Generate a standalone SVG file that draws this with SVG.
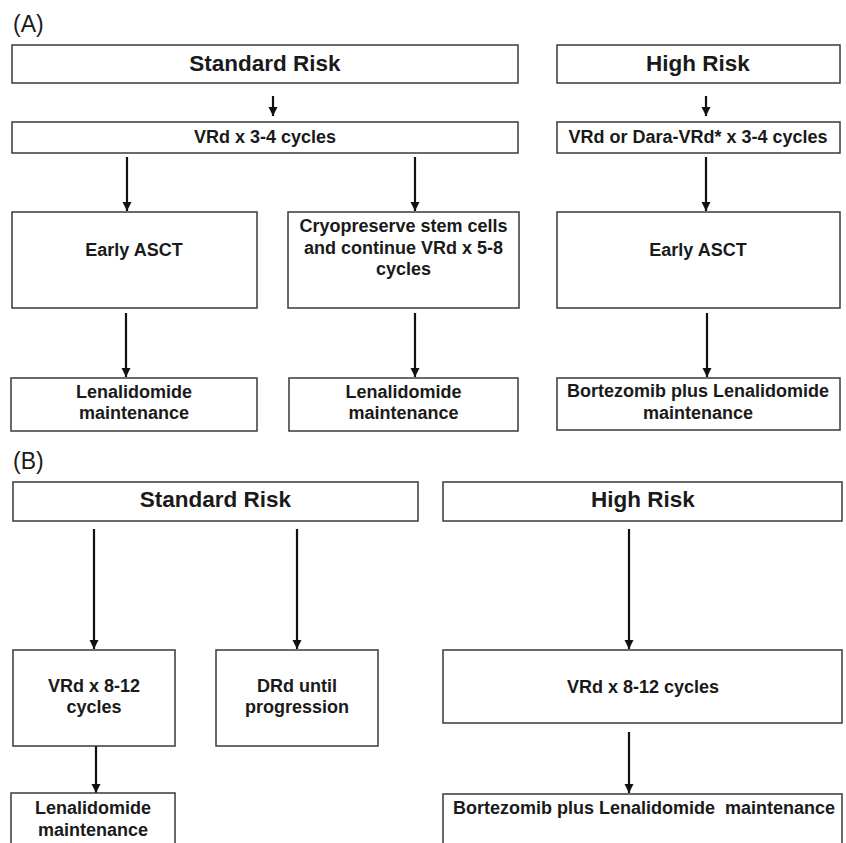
<svg xmlns="http://www.w3.org/2000/svg" width="846" height="843" viewBox="0 0 846 843">
<style>
.bx{fill:#fff;stroke:#3a3a3a;stroke-width:1.5}
.t{font-family:"Liberation Sans",Arial,sans-serif;font-weight:bold;font-size:18px;fill:#1a1a1a;text-anchor:middle}
.h{font-size:22.5px}
.lb{font-family:"Liberation Sans",Arial,sans-serif;font-size:23px;fill:#1a1a1a}
.c{stroke:#111;stroke-width:2.2;fill:none;marker-end:url(#ah)}
</style>
<defs>
<marker id="ah" markerUnits="userSpaceOnUse" markerWidth="10" markerHeight="10" refX="9" refY="4.5" orient="auto">
<path d="M0,0 L9,4.5 L0,9 z" fill="#111"/>
</marker>
</defs>
<rect width="846" height="843" fill="#fff"/>
<text class="lb" x="13" y="32">(A)</text>
<text class="lb" x="13" y="469">(B)</text>
<g id="connectors">
<line class="c" x1="273" y1="96" x2="273" y2="116"/>
<line class="c" x1="706" y1="96" x2="706" y2="116"/>
<line class="c" x1="127" y1="157" x2="127" y2="211"/>
<line class="c" x1="415" y1="157" x2="415" y2="211"/>
<line class="c" x1="706" y1="157" x2="706" y2="211"/>
<line class="c" x1="126" y1="313" x2="126" y2="377"/>
<line class="c" x1="415" y1="313" x2="415" y2="377"/>
<line class="c" x1="707" y1="313" x2="707" y2="377"/>
<line class="c" x1="94" y1="529" x2="94" y2="649"/>
<line class="c" x1="297" y1="529" x2="297" y2="649"/>
<line class="c" x1="629" y1="529" x2="629" y2="649"/>
<line class="c" x1="96" y1="746" x2="96" y2="793"/>
<line class="c" x1="629" y1="732" x2="629" y2="793"/>
</g>
<g id="a-std"><rect class="bx" x="12" y="45" width="506" height="38"/><text class="t h" x="265" y="71">Standard Risk</text></g>
<g id="a-high"><rect class="bx" x="557" y="45" width="283" height="38"/><text class="t h" x="698" y="71">High Risk</text></g>
<g id="a-vrd"><rect class="bx" x="12" y="122" width="506" height="31"/><text class="t" x="265" y="143">VRd x 3-4 cycles</text></g>
<g id="a-vrd-dara"><rect class="bx" x="557" y="122" width="283" height="31"/><text class="t" x="698" y="143">VRd or Dara-VRd* x 3-4 cycles</text></g>
<g id="a-asct1"><rect class="bx" x="12" y="212" width="245" height="96"/><text class="t" x="134" y="256">Early ASCT</text></g>
<g id="a-cryo"><rect class="bx" x="288" y="212" width="231" height="96"/><text class="t" x="403.5" y="232">Cryopreserve stem cells</text><text class="t" x="403.5" y="254">and continue VRd x 5-8</text><text class="t" x="403.5" y="275">cycles</text></g>
<g id="a-asct2"><rect class="bx" x="557" y="212" width="283" height="96"/><text class="t" x="698" y="256">Early ASCT</text></g>
<g id="a-len1"><rect class="bx" x="11" y="378" width="246" height="53"/><text class="t" x="134" y="398">Lenalidomide</text><text class="t" x="134" y="419">maintenance</text></g>
<g id="a-len2"><rect class="bx" x="289" y="378" width="229" height="53"/><text class="t" x="403.5" y="398">Lenalidomide</text><text class="t" x="403.5" y="419">maintenance</text></g>
<g id="a-bort"><rect class="bx" x="557" y="378" width="283" height="52"/><text class="t" x="698" y="397">Bortezomib plus Lenalidomide</text><text class="t" x="698" y="419">maintenance</text></g>
<g id="b-std"><rect class="bx" x="13" y="482" width="405" height="39"/><text class="t h" x="215.5" y="507">Standard Risk</text></g>
<g id="b-high"><rect class="bx" x="443" y="482" width="399" height="39"/><text class="t h" x="643" y="507">High Risk</text></g>
<g id="b-vrd1"><rect class="bx" x="13" y="650" width="162" height="96"/><text class="t" x="94" y="692">VRd x 8-12</text><text class="t" x="94" y="713">cycles</text></g>
<g id="b-drd"><rect class="bx" x="216" y="650" width="162" height="96"/><text class="t" x="297" y="692">DRd until</text><text class="t" x="297" y="713">progression</text></g>
<g id="b-vrd2"><rect class="bx" x="443" y="650" width="399" height="73"/><text class="t" x="643" y="693">VRd x 8-12 cycles</text></g>
<g id="b-len"><rect class="bx" x="11" y="793" width="164" height="60"/><text class="t" x="93" y="814">Lenalidomide</text><text class="t" x="93" y="836">maintenance</text></g>
<g id="b-bort"><rect class="bx" x="443" y="794" width="399" height="60"/><text class="t" x="644" y="814" style="white-space:pre">Bortezomib plus Lenalidomide  maintenance</text></g>
</svg>
